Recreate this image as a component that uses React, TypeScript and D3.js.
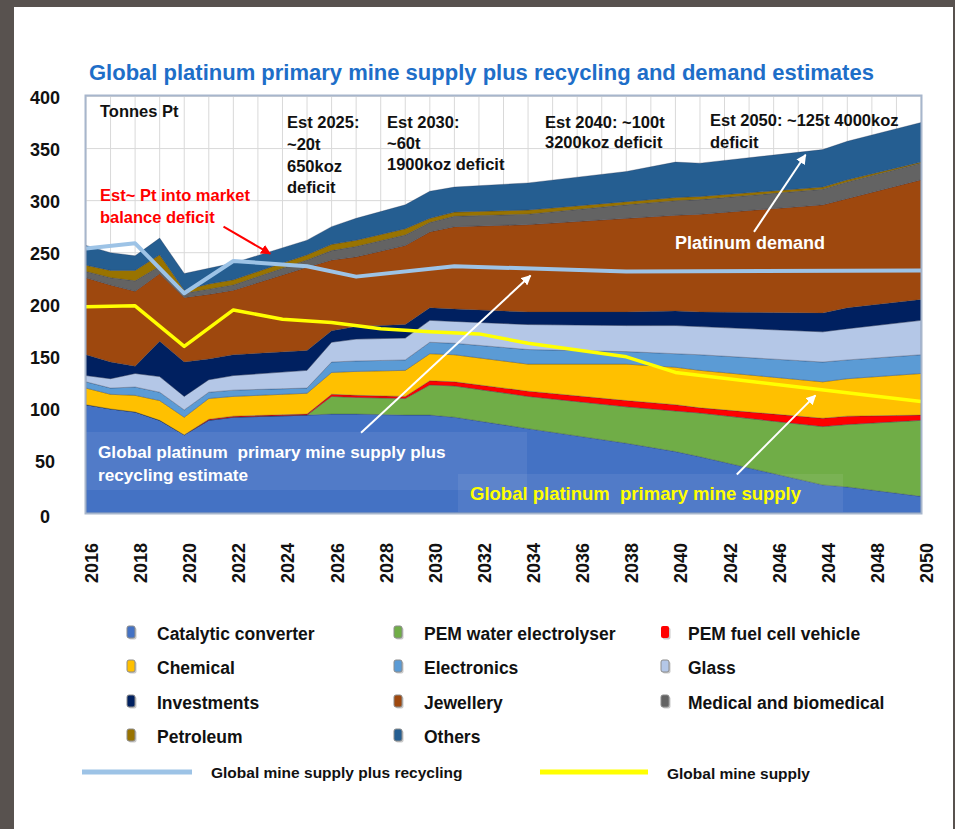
import React from "react";
import * as d3 from "d3";

// breakpoint years
const years = [2016, 2017, 2018, 2019, 2020, 2021, 2022, 2025, 2026, 2027, 2029, 2030, 2031, 2034, 2038, 2040, 2041, 2046, 2047, 2050];

// demand by segment, tonnes Pt
const catalytic = [104, 100, 97, 89, 75, 89, 92, 94, 95, 95, 94, 94, 92, 81, 67, 59, 54, 27, 25, 16];
const electrolyser = [0, 0, 0, 0, 0, 0, 0, 0, 17, 16, 16, 29, 30, 31, 35, 39, 42, 56, 60, 73];
const fuelCell = [0, 0, 0, 0, 0, 1, 1, 1, 2, 2, 2, 4, 4, 5, 6, 6, 5, 8, 8, 5];
const chemical = [16, 14, 16, 19, 17, 20, 19, 20, 21, 23, 25, 26, 26, 26, 35, 36, 36, 35, 36, 40];
const electronics = [6, 6, 8, 8, 7, 6, 6, 5, 10, 10, 10, 11, 11, 14, 12, 13, 15, 19, 18, 18];
const glass = [6, 9, 13, 15, 13, 12, 14, 17, 19, 21, 21, 21, 21, 24, 25, 27, 27, 29, 30, 33];
const investments = [20, 16, 7, 34, 33, 20, 20, 19, 11, 12, 13, 12, 12, 12, 13, 14, 14, 18, 20, 20];
const jewellery = [74, 74, 72, 65, 62, 62, 62, 80, 68, 67, 76, 73, 79, 84, 90, 92, 94, 104, 105, 115];
const medical = [6, 7, 10, 7, 4, 5, 5, 7, 9, 10, 10, 9, 10, 10, 13, 14, 14, 15, 16, 16];
const petroleum = [6, 7, 10, 11, 3, 5, 5, 5, 6, 6, 6, 4, 4, 4, 3, 3, 3, 2, 2, 1];
const others = [19, 17, 14, 16, 16, 15, 16, 14, 17, 21, 23, 26, 24, 26, 29, 34, 32, 36, 37, 38];

// supply lines
const recyclingYears = [2016, 2018, 2020, 2022, 2025, 2027, 2031, 2038, 2050];
const recyclingSupply = [254, 259, 211, 242, 237, 227, 237, 232, 233];
const mineYears = [2016, 2018, 2020, 2022, 2024, 2026, 2028, 2030, 2032, 2034, 2038, 2040, 2045, 2050];
const mineSupply = [198, 199, 160, 195, 186, 183, 177, 174, 172, 163, 150, 135, 121, 107];

const xTickYears = d3.range(2016, 2051, 2);
const xTickLabels = ["2016", "2018", "2020", "2022", "2024", "2026", "2028", "2030", "2032", "2034", "2036", "2038", "2040", "2042", "2046", "2044", "2048", "2050"];
const yTicks = [0, 50, 100, 150, 200, 250, 300, 350, 400];

const layers = [
  { key: "catalytic", label: "Catalytic converter", color: "#4472C4", values: catalytic },
  { key: "electrolyser", label: "PEM water electrolyser", color: "#70AD47", values: electrolyser },
  { key: "fuelCell", label: "PEM fuel cell vehicle", color: "#FF0000", values: fuelCell },
  { key: "chemical", label: "Chemical", color: "#FFC000", values: chemical },
  { key: "electronics", label: "Electronics", color: "#5B9BD5", values: electronics },
  { key: "glass", label: "Glass", color: "#B4C7E7", values: glass },
  { key: "investments", label: "Investments", color: "#002060", values: investments },
  { key: "jewellery", label: "Jewellery", color: "#9E480E", values: jewellery },
  { key: "medical", label: "Medical and biomedical", color: "#636363", values: medical },
  { key: "petroleum", label: "Petroleum", color: "#997300", values: petroleum },
  { key: "others", label: "Others", color: "#255E91", values: others },
];

const legendRows = [
  ["catalytic", "electrolyser", "fuelCell"],
  ["chemical", "electronics", "glass"],
  ["investments", "jewellery", "medical"],
  ["petroleum", "others"],
];

const font = "'Liberation Sans', Arial, sans-serif";

export default function App() {
  const width = 955;
  const height = 829;

  const x = d3.scaleLinear().domain([2016, 2050]).range([86, 921]);
  const y = d3.scaleLinear().domain([0, 400]).range([513, 96.5]);

  const table = years.map((yr, i) => {
    const row: any = { year: yr };
    layers.forEach((l) => (row[l.key] = l.values[i]));
    return row;
  });
  const stacked = d3.stack().keys(layers.map((l) => l.key))(table);

  const area = d3
    .area<any>()
    .x((d) => x(d.data.year))
    .y0((d) => y(d[0]))
    .y1((d) => y(d[1]));

  const line = d3
    .line<[number, number]>()
    .x((d) => x(d[0]))
    .y((d) => y(d[1]));

  const recyclingPath = line(recyclingYears.map((yr, i) => [yr, recyclingSupply[i]]));
  const minePath = line(mineYears.map((yr, i) => [yr, mineSupply[i]]));

  const colorOf = (k: string) => layers.find((l) => l.key === k)!;

  const arrows = [
    { from: [2021.6, 275], to: [2023.5, 249], color: "#FF0000", marker: "arrowRed" },
    { from: [2043.2, 270], to: [2045.3, 344], color: "#FFFFFF", marker: "arrowWhite" },
    { from: [2027.2, 77], to: [2034.1, 228], color: "#FFFFFF", marker: "arrowWhite" },
    { from: [2042.5, 37], to: [2045.7, 113], color: "#FFFFFF", marker: "arrowWhite" },
  ];

  const textStyle = { fontFamily: font, fontWeight: 700 as const };

  return (
    <svg width={width} height={height} style={{ position: "absolute", left: 0, top: 0 }}>
      <defs>
        <marker id="arrowWhite" viewBox="0 0 10 10" refX="9" refY="5" markerWidth="5" markerHeight="5" orient="auto">
          <path d="M0,0 L10,5 L0,10 z" fill="#FFFFFF" />
        </marker>
        <marker id="arrowRed" viewBox="0 0 10 10" refX="9" refY="5" markerWidth="5" markerHeight="5" orient="auto">
          <path d="M0,0 L10,5 L0,10 z" fill="#FF0000" />
        </marker>
        <clipPath id="plotClip">
          <rect x={86} y={96} width={835} height={417} />
        </clipPath>
      </defs>

      <rect x={0} y={0} width={width} height={height} fill="#58524F" />
      <rect x={14} y={7} width={939} height={822} fill="#FFFFFF" />

      <text x={89} y={72} dominantBaseline="central" fill="#1E6EC8" fontSize={22} style={textStyle}>
        Global platinum primary mine supply plus recycling and demand estimates
      </text>

      {/* plot area */}
      <rect x={86} y={96} width={835} height={417} fill="#FFFFFF" />
      <g stroke="#D9D9D9" strokeWidth={1}>
        {d3.range(2016, 2051).map((yr) => (
          <line key={"v" + yr} x1={x(yr)} x2={x(yr)} y1={96} y2={513} />
        ))}
        {yTicks.map((t) => (
          <line key={"h" + t} x1={86} x2={921} y1={y(t)} y2={y(t)} />
        ))}
      </g>

      <g clipPath="url(#plotClip)">
        {stacked.map((s, i) => (
          <path
            key={s.key}
            d={area(s as any) || undefined}
            fill={layers[i].color}
            stroke="#1F2D4A"
            strokeOpacity={0.35}
            strokeWidth={0.8}
          />
        ))}
        <rect x={86} y={432} width={441} height={58} fill="#FFFFFF" fillOpacity={0.07} />
        <rect x={458} y={474} width={385} height={38} fill="#FFFFFF" fillOpacity={0.07} />
      </g>

      <path d={recyclingPath || undefined} fill="none" stroke="#9DC3E6" strokeWidth={4} strokeLinejoin="round" />
      <path d={minePath || undefined} fill="none" stroke="#FFFF00" strokeWidth={3.5} strokeLinejoin="round" />

      <rect x={85.5} y={95.5} width={836} height={418} fill="none" stroke="#A7B6CC" strokeWidth={2} />

      {/* annotations */}
      {arrows.map((a, i) => (
        <line
          key={"a" + i}
          x1={x(a.from[0])}
          y1={y(a.from[1])}
          x2={x(a.to[0])}
          y2={y(a.to[1])}
          stroke={a.color}
          strokeWidth={2}
          markerEnd={`url(#${a.marker})`}
        />
      ))}

      <g fontSize={16.5} fill="#111111" style={textStyle} dominantBaseline="central">
        <text x={100} y={111}>Tonnes Pt</text>
        <text x={287} y={122}>Est 2025:</text>
        <text x={287} y={144}>~20t</text>
        <text x={287} y={165.5}>650koz</text>
        <text x={287} y={187}>deficit</text>
        <text x={387} y={122}>Est 2030:</text>
        <text x={387} y={143}>~60t</text>
        <text x={387} y={164}>1900koz deficit</text>
        <text x={545} y={121.5}>Est 2040: ~100t</text>
        <text x={545} y={141.5}>3200koz deficit</text>
        <text x={710} y={120}>Est 2050: ~125t 4000koz</text>
        <text x={710} y={141.5}>deficit</text>
      </g>
      <g fontSize={16.5} fill="#FF0000" style={textStyle} dominantBaseline="central">
        <text x={100} y={195}>Est~ Pt into market</text>
        <text x={100} y={216.5}>balance deficit</text>
      </g>
      <g style={textStyle} dominantBaseline="central">
        <text x={675} y={243} fill="#FFFFFF" fontSize={18}>Platinum demand</text>
        <text x={98} y={451.5} fill="#FFFFFF" fontSize={17.2} style={{ whiteSpace: "pre" }}>Global platinum  primary mine supply plus</text>
        <text x={98} y={475} fill="#FFFFFF" fontSize={17.2}>recycling estimate</text>
        <text x={470} y={493} fill="#FFFF00" fontSize={18.5} style={{ whiteSpace: "pre" }}>Global platinum  primary mine supply</text>
      </g>

      {/* axes */}
      <g fontSize={18} fill="#111111" style={textStyle} textAnchor="middle" dominantBaseline="central">
        {yTicks.map((t) => (
          <text key={"yl" + t} x={45} y={y(t) + 1 + (t === 0 ? 3 : 0)}>
            {t}
          </text>
        ))}
        {xTickYears.map((yr, i) => (
          <text key={"xl" + yr} transform={`translate(${x(yr) + 6},563) rotate(-90)`}>
            {xTickLabels[i]}
          </text>
        ))}
      </g>

      {/* legend */}
      <g fontSize={17.5} fill="#111111" style={textStyle}>
        {legendRows.map((row, r) =>
          row.map((k, c) => {
            const l = colorOf(k);
            const mx = [127, 394, 661][c];
            const ty = [634, 668, 703, 737][r];
            return (
              <g key={k}>
                <rect x={mx + 1.5} y={ty - 6.5} width={8} height={12} rx={2} fill="#A6A6A6" opacity={0.6} />
                <rect
                  x={mx}
                  y={ty - 8}
                  width={8}
                  height={12}
                  rx={2}
                  fill={l.color}
                  stroke={k === "fuelCell" ? "none" : "#8C8C8C"}
                  strokeWidth={1}
                />
                <text x={[157, 424, 688][c]} y={ty} dominantBaseline="central">
                  {l.label}
                </text>
              </g>
            );
          })
        )}
      </g>
      <g fontSize={15.5} fill="#111111" style={textStyle} dominantBaseline="central">
        <line x1={82} x2={192} y1={772} y2={772} stroke="#9DC3E6" strokeWidth={5} />
        <text x={211} y={772}>Global mine supply plus recycling</text>
        <line x1={540} x2={648} y1={772} y2={772} stroke="#FFFF00" strokeWidth={5} />
        <text x={667} y={773}>Global mine supply</text>
      </g>
    </svg>
  );
}
